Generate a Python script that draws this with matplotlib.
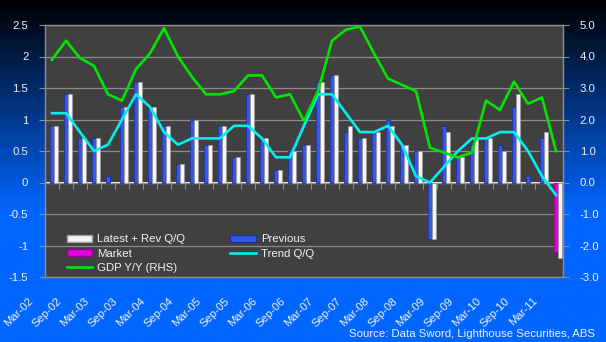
"""Australian GDP Q/Q bars with trend and Y/Y line, Excel-style dark chart."""
import numpy as np
import matplotlib
matplotlib.use("Agg")
import matplotlib.pyplot as plt
from matplotlib.patches import Patch
from matplotlib.lines import Line2D
from matplotlib.transforms import ScaledTranslation, blended_transform_factory

plt.rcParams["font.family"] = ["Liberation Sans", "DejaVu Sans"]

nan = np.nan
# one value per quarter, Mar-02 .. Mar-11
previous = [0.9, 1.4, 0.7, 0.7, 0.1, 1.2, 1.6, 1.2, 0.9, 0.3, 1.0, 0.6, 0.9, 0.4, 1.4, 0.7,
            0.2, 0.5, 0.6, 1.6, 1.7, 0.8, 0.7, 0.8, 1.0, 0.6, 0.5, -0.9, 0.9, 0.4, 0.6, 0.7,
            0.6, 1.2, 0.1, 0.7, nan]
latest = [0.9, 1.4, 0.7, 0.7, 0.0, 1.2, 1.6, 1.2, 0.9, 0.3, 1.0, 0.6, 0.9, 0.4, 1.4, 0.7,
          0.2, 0.5, 0.6, 1.6, 1.7, 0.9, 0.7, 0.8, 0.9, 0.6, 0.5, -0.9, 0.8, 0.4, 0.7, 0.7,
          0.5, 1.4, 0.0, 0.8, -1.2]
market = [nan] * 36 + [-1.1]
trend = [1.1, 1.1, 0.8, 0.5, 0.6, 1.0, 1.4, 1.2, 0.8, 0.6, 0.7, 0.7, 0.7, 0.9, 0.9, 0.7,
         0.4, 0.4, 0.9, 1.4, 1.4, 1.1, 0.8, 0.8, 0.9, 0.6, 0.1, 0.0, 0.25, 0.5, 0.7, 0.7,
         0.8, 0.8, 0.5, 0.1, -0.2]
gdp_yy = [3.9, 4.5, 3.95, 3.7, 2.8, 2.6, 3.6, 4.1, 4.9, 4.0, 3.35, 2.8, 2.8, 2.9, 3.4, 3.4,
          2.7, 2.8, 1.95, 2.9, 4.5, 4.85, 4.95, 4.1, 3.3, 3.1, 2.9, 1.1, 0.95, 0.8, 0.95, 2.6,
          2.3, 3.2, 2.5, 2.7, 1.0]
tick_labels = ["Mar-02", "Sep-02", "Mar-03", "Sep-03", "Mar-04", "Sep-04", "Mar-05",
               "Sep-05", "Mar-06", "Sep-06", "Mar-07", "Sep-07", "Mar-08", "Sep-08",
               "Mar-09", "Sep-09", "Mar-10", "Sep-10", "Mar-11"]
left_ticks = [-1.5, -1, -0.5, 0, 0.5, 1, 1.5, 2, 2.5]
right_ticks = [-3, -2, -1, 0, 1, 2, 3, 4, 5]

TXT = "#f2f2f2"
GRID = "#8c8c8c"
FS = 8.2

fig = plt.figure(figsize=(6.06, 3.42), dpi=100)

# black -> blue vertical gradient behind everything
bg = fig.add_axes([0, 0, 1, 1], zorder=-5)
t = np.clip(np.linspace(0, 1, 300) / 0.62, 0, 1)[:, None]
top = np.array([0.0, 0.0, 0.0])
bot = np.array([0.0, 0.4, 1.0])
grad = (top + (bot - top) * t[..., None]) * np.ones((1, 2, 1))
bg.imshow(grad, aspect="auto", extent=[0, 1, 0, 1], origin="upper")
bg.axis("off")

ax = fig.add_axes([45 / 606, 65 / 342, 518 / 606, 252 / 342])
ax.set_facecolor("#404040")
x = np.arange(len(latest))

ax.bar(x, previous, width=0.3, color="#3558e6", edgecolor="#1e32a0", linewidth=0.6, zorder=2)
ax.bar(x, market, width=0.3, color="#e400e4", edgecolor="#9a009a", linewidth=0.6, zorder=2)
ax.bar(x + 0.3, latest, width=0.3, color="#f4f4f4", edgecolor="#9a9a9a", linewidth=0.6, zorder=2)
ax.plot(x, trend, color="#00f0f0", lw=1.9, zorder=3)

ax.set_xlim(-0.5, len(latest) - 0.5)
ax.set_ylim(-1.5, 2.5)
ax.set_yticks(left_ticks)
ax.set_yticklabels([f"{v:g}" for v in left_ticks])
ax.set_axisbelow(True)
ax.yaxis.grid(True, color=GRID, lw=0.9)
ax.set_xticks([])
ax.tick_params(axis="y", colors=GRID, length=4, width=0.8, labelcolor=TXT, labelsize=FS, pad=8)
for s in ax.spines.values():
    s.set_color(GRID)
    s.set_linewidth(0.9)

# category axis crosses at zero, with tick marks between quarters
zero = ax.secondary_xaxis(1.5 / 4.0)
zero.set_xticks(np.arange(-0.5, len(latest), 1))
zero.tick_params(length=4, width=0.8, color=GRID, labelbottom=False)
zero.spines["bottom"].set_color(GRID)
zero.spines["bottom"].set_linewidth(0.9)

# x labels sit below the plot, shifted left like the original
trans = blended_transform_factory(ax.transData, ax.transAxes) + \
    ScaledTranslation(-24 / 100, -19 / 100, fig.dpi_scale_trans)
for xi, lab in zip(x[::2], tick_labels):
    ax.text(xi, 0, lab, transform=trans, rotation=45, ha="right", va="top",
            rotation_mode="anchor", color=TXT, fontsize=FS)

ax2 = ax.twinx()
ax2.plot(x, gdp_yy, color="#00e600", lw=1.9, zorder=3)
ax2.set_ylim(-3, 5)
ax2.set_yticks(right_ticks)
ax2.set_yticklabels([f"{v:.1f}" for v in right_ticks])
ax2.tick_params(axis="y", colors=GRID, length=4, width=0.8, labelcolor=TXT, labelsize=FS, pad=8)
for s in ax2.spines.values():
    s.set_color(GRID)
    s.set_linewidth(0.9)

handles = [
    Patch(facecolor="#f4f4f4", edgecolor="#9a9a9a", label="Latest + Rev Q/Q"),
    Patch(facecolor="#e400e4", edgecolor="#9a009a", label="Market"),
    Line2D([], [], color="#00e600", lw=1.9, label="GDP Y/Y (RHS)"),
    Patch(facecolor="#3558e6", edgecolor="#1e32a0", label="Previous"),
    Line2D([], [], color="#00f0f0", lw=1.9, label="Trend Q/Q"),
]
leg = ax2.legend(handles=handles, ncol=2, loc="upper left", bbox_to_anchor=(0.042, 0.17),
                 frameon=False, fontsize=FS, borderpad=0, borderaxespad=0,
                 handlelength=2.2, handleheight=0.6, handletextpad=0.45,
                 labelspacing=0.4, columnspacing=4.0)
for tx in leg.get_texts():
    tx.set_color(TXT)

fig.text(595 / 606, 1 - 334 / 342, "Source: Data Sword, Lighthouse Securities, ABS",
         ha="right", va="center", color=TXT, fontsize=FS)

fig.savefig("out.png", dpi=100)
